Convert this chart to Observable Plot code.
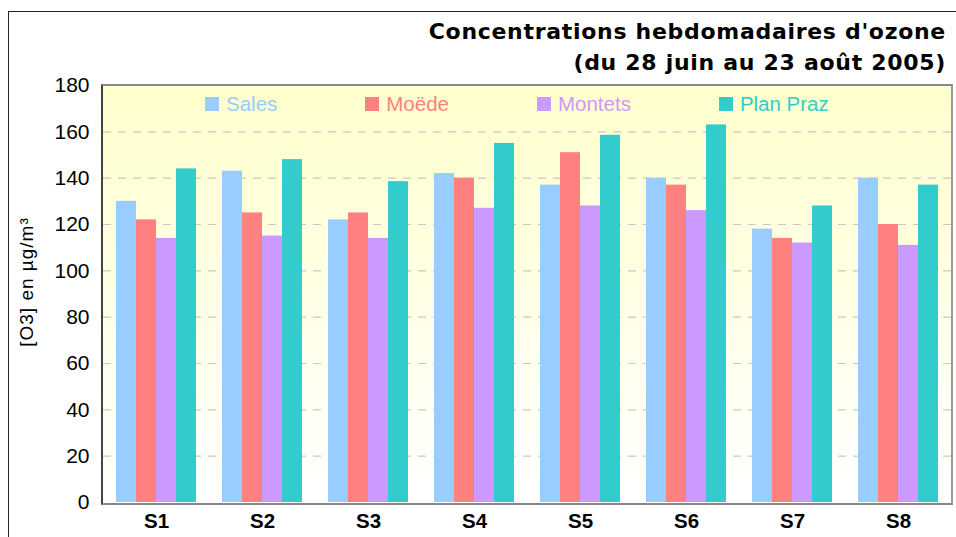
<!DOCTYPE html>
<html>
<head>
<meta charset="utf-8">
<script src="https://cdn.jsdelivr.net/npm/d3@7"></script>
<script src="https://cdn.jsdelivr.net/npm/@observablehq/plot@0.6"></script>
<style>
  html, body { margin: 0; padding: 0; background: #fff; }
  #wrap { position: relative; width: 956px; height: 537px; overflow: hidden; font-family: "Liberation Sans", Arial, sans-serif; }
  #outer { position: absolute; left: 8px; top: 11px; width: 1200px; height: 1200px; border: 1px solid #222; }
  #bg { position: absolute; left: 101px; top: 84px; width: 848px; height: 417px;
        background: linear-gradient(#ffffcc 0%, #fffff0 70%, #ffffff 100%);
        border-left: 2px solid #444; border-top: 2px solid #888; border-right: 2px solid #999; border-bottom: 2px solid #888; }
  #grid, #chart { position: absolute; left: 0; top: 0; }
  #title { position: absolute; right: 10px; top: 16px; text-align: right; font-family: "DejaVu Sans", Verdana, sans-serif;
           font-weight: bold; font-size: 22px; line-height: 31px; letter-spacing: 0.7px; color: #000; }
  #ylabel { position: absolute; left: 27px; top: 282px; transform: translate(-50%, -50%) rotate(-90deg);
            white-space: nowrap; font-size: 19px; letter-spacing: 1px; color: #000; }
  #legend { position: absolute; left: 205px; top: 92px; display: flex; gap: 88px; font-size: 20.5px; }
  #legend .item { display: flex; align-items: center; gap: 7px; }
  #legend .sw { width: 14px; height: 14px; display: inline-block; }
</style>
</head>
<body>
<div id="wrap">
  <div id="outer"></div>
  <div id="bg"></div>
  <div id="grid"></div>
  <div id="chart"></div>
  <div id="title">Concentrations hebdomadaires d'ozone<br>(du 28 juin au 23 août 2005)</div>
  <div id="ylabel">[O3] en µg/m³</div>
  <div id="legend"></div>
</div>
<script>
const weeks = ["S1", "S2", "S3", "S4", "S5", "S6", "S7", "S8"];
const series = ["Sales", "Moëde", "Montets", "Plan Praz"];
const colors = ["#99ccff", "#ff8080", "#cc99ff", "#33cccc"];
const sales    = [130, 143, 122, 142, 137, 140, 118, 140];
const moede    = [122, 125, 125, 140, 151, 137, 114, 120];
const montets  = [114, 115, 114, 127, 128, 126, 112, 111];
const planPraz = [144, 148, 138.5, 155, 158.5, 163, 128, 137];
const yTicks = [0, 20, 40, 60, 80, 100, 120, 140, 160, 180];

const seriesValues = [sales, moede, montets, planPraz];
const data = [];
weeks.forEach((w, i) => {
  series.forEach((s, j) => data.push({week: w, series: s, value: seriesValues[j][i]}));
});

const common = {
  width: 956,
  height: 537,
  marginLeft: 103,
  marginRight: 5,
  marginTop: 85,
  marginBottom: 35,
  style: {background: "transparent", fontFamily: "'Liberation Sans', Arial, sans-serif", overflow: "visible"}
};

// Dashed horizontal grid across the whole plot area (shared y scale domain)
const grid = Plot.plot({
  ...common,
  y: {domain: [0, 180], axis: null},
  marks: [
    Plot.ruleY(yTicks.filter(d => d > 0 && d < 180), {stroke: "#c8c8c8", strokeWidth: 1.2, strokeDasharray: "8,7"})
  ]
});
document.getElementById("grid").appendChild(grid);

const chart = Plot.plot({
  ...common,
  fx: {domain: weeks, paddingInner: 0.25, paddingOuter: 0.125, label: null},
  x: {domain: series, padding: 0, axis: null},
  y: {domain: [0, 180], label: null},
  color: {domain: series, range: colors},
  marks: [
    Plot.barY(data, {fx: "week", x: "series", y: "value", fill: "series"}),
    Plot.axisY(yTicks, {tickSize: 0, tickPadding: 15, dx: -12, fontSize: 21, label: null}),
    Plot.axisFx({anchor: "bottom", tickSize: 0, tickPadding: 11, fontSize: 20.5, fontWeight: "bold", label: null})
  ]
});
document.getElementById("chart").appendChild(chart);

const legend = document.getElementById("legend");
series.forEach((s, i) => {
  const item = document.createElement("div");
  item.className = "item";
  const sw = document.createElement("span");
  sw.className = "sw";
  sw.style.background = colors[i];
  const t = document.createElement("span");
  t.textContent = s;
  t.style.color = colors[i];
  item.appendChild(sw);
  item.appendChild(t);
  legend.appendChild(item);
});
</script>
</body>
</html>
